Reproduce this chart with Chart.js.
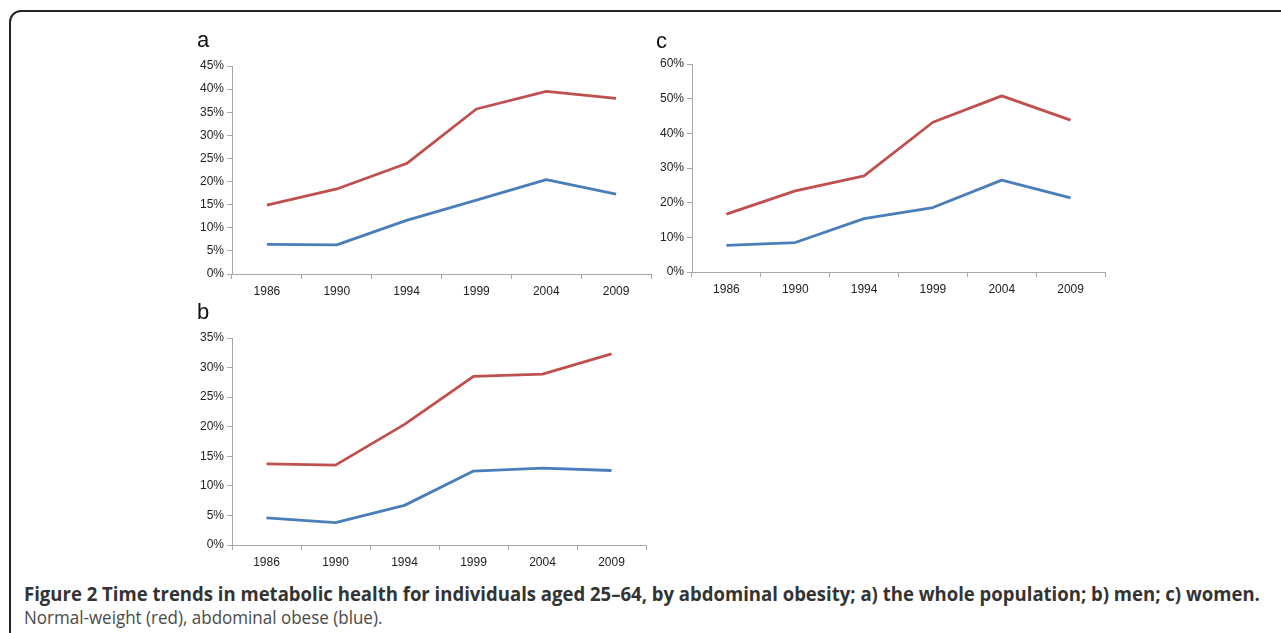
<!DOCTYPE html>
<html>
<head>
<meta charset="utf-8">
<script src="https://cdn.jsdelivr.net/npm/chart.js@4"></script>
<style>
  html, body { margin: 0; padding: 0; background: #ffffff; }
  body { width: 1281px; height: 633px; position: relative; overflow: hidden; }
  .frame {
    position: absolute; left: 9px; top: 10px; width: 1320px; height: 700px;
    border: 2px solid #262626; border-radius: 12px; box-sizing: border-box;
  }
  .panel { position: absolute; }
  .panel canvas { display: block; }
  .letter {
    position: absolute; font-family: "Liberation Sans", Arial, sans-serif;
    font-size: 22px; line-height: 22px; color: #111;
  }
  .cap {
    position: absolute; left: 24px; white-space: nowrap;
    font-family: "Open Sans", sans-serif; font-size: 19px; line-height: 19px;
    transform-origin: 0 0;
  }
  .cap.bold { font-weight: 700; color: #333; }
  .cap.plain { font-weight: 400; color: #4a4a4a; }
</style>
</head>
<body>
<div class="frame"></div>

<div class="panel" style="left:170px; top:50px;"><canvas id="chartA" width="495" height="255"></canvas></div>
<div class="panel" style="left:630px; top:48px;"><canvas id="chartC" width="490" height="255"></canvas></div>
<div class="panel" style="left:170px; top:322px;"><canvas id="chartB" width="490" height="255"></canvas></div>

<div class="letter" style="left:197px; top:29px;">a</div>
<div class="letter" style="left:656px; top:30px;">c</div>
<div class="letter" style="left:197px; top:301px;">b</div>

<div class="cap bold" id="cap1" style="top:585px;">Figure 2 Time trends in metabolic health for individuals aged 25–64, by abdominal obesity; a) the whole population; b) men; c) women.</div>
<div class="cap plain" id="cap2" style="top:608px;">Normal-weight (red), abdominal obese (blue).</div>

<script>
// Survey years on the x axis
const years = ['1986', '1990', '1994', '1999', '2004', '2009'];

// a) whole population, percent metabolically healthy
const wholeNormal = [14.9, 18.4, 23.9, 35.7, 39.5, 38.0];
const wholeObese  = [6.4, 6.3, 11.6, 16.0, 20.4, 17.3];

// b) men
const menNormal = [13.7, 13.5, 20.4, 28.5, 28.9, 32.3];
const menObese  = [4.6, 3.8, 6.7, 12.5, 13.0, 12.6];

// c) women
const womenNormal = [16.7, 23.4, 27.7, 43.2, 50.8, 43.8];
const womenObese  = [7.7, 8.5, 15.4, 18.6, 26.5, 21.4];

// y-axis ranges per panel: [max, step]
const axisA = [45, 5];
const axisB = [35, 5];
const axisC = [60, 10];

const RED = '#C0504D';
const BLUE = '#4A7EBB';
const AXIS = '#a8a8a8';
const TICK_FONT = { family: '"Liberation Sans", Arial, sans-serif', size: 12 };

function makePanel(id, normal, obese, range, box) {
  new Chart(document.getElementById(id), {
    type: 'line',
    data: {
      labels: years,
      datasets: [
        { label: 'Normal-weight', data: normal, borderColor: RED, backgroundColor: RED },
        { label: 'Abdominal obese', data: obese, borderColor: BLUE, backgroundColor: BLUE }
      ]
    },
    options: {
      responsive: false,
      animation: false,
      devicePixelRatio: 1,
      layout: { padding: { top: box.top, right: box.right, bottom: 0, left: 0 } },
      elements: {
        line: { borderWidth: 2.8, tension: 0, borderCapStyle: 'butt', borderJoinStyle: 'round' },
        point: { radius: 0, hoverRadius: 0 }
      },
      plugins: { legend: { display: false }, tooltip: { enabled: false }, title: { display: false } },
      scales: {
        x: {
          offset: true,
          grid: { offset: true, drawOnChartArea: false, drawTicks: true, tickLength: 5, color: AXIS },
          border: { display: true, color: AXIS, width: 1 },
          ticks: { color: '#222', font: TICK_FONT, padding: 5, maxRotation: 0, autoSkip: false },
          afterFit: s => { s.height = box.xh; }
        },
        y: {
          min: 0, max: range[0],
          grid: { drawOnChartArea: false, drawTicks: true, tickLength: 5, color: AXIS },
          border: { display: true, color: AXIS, width: 1 },
          ticks: { stepSize: range[1], color: '#222', font: TICK_FONT, padding: 3,
                   callback: v => v + '%' },
          afterFit: s => { s.width = box.yw; }
        }
      }
    }
  });
}

makePanel('chartA', wholeNormal, wholeObese, axisA, { top: 16, right: 14, yw: 62, xh: 31 });
makePanel('chartC', womenNormal, womenObese, axisC, { top: 16, right: 15, yw: 62, xh: 31 });
makePanel('chartB', menNormal, menObese, axisB, { top: 16, right: 14, yw: 62, xh: 32 });

// Caption set in a condensed face: squeeze each line to its column width
(function fitCaption() {
  const c1 = document.getElementById('cap1');
  const c2 = document.getElementById('cap2');
  c1.style.transform = 'scaleX(' + (1236 / c1.offsetWidth) + ')';
  c2.style.transform = 'scaleX(' + (358 / c2.offsetWidth) + ')';
})();
</script>
</body>
</html>
